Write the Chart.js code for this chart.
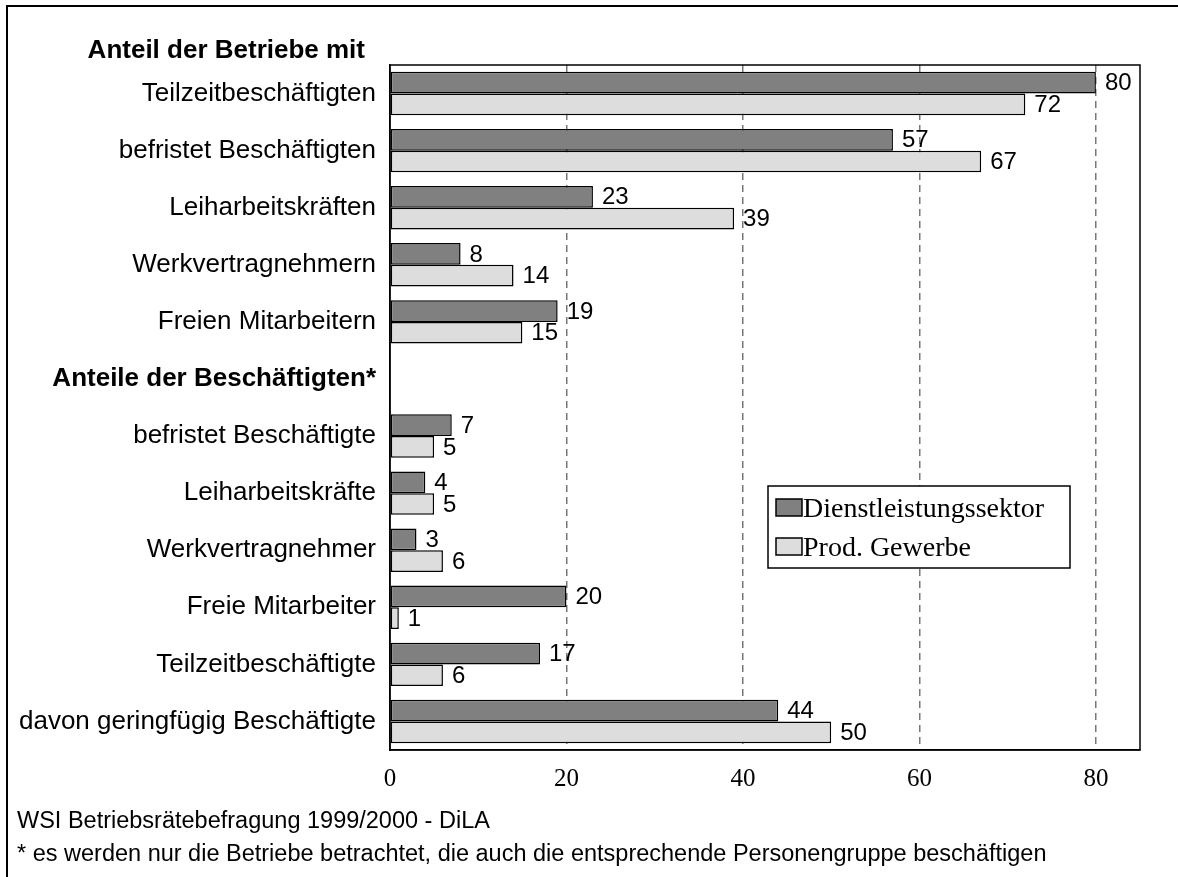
<!DOCTYPE html>
<html>
<head>
<meta charset="utf-8">
<script src="https://cdn.jsdelivr.net/npm/chart.js@4/dist/chart.umd.min.js"></script>
<style>
  html, body { margin: 0; padding: 0; background: #fff; }
  #wrap { position: relative; width: 1178px; height: 877px; }
  #frame { position: absolute; left: 6px; top: 5px; right: 0; bottom: 0;
           border-left: 2px solid #000; border-top: 2px solid #000; }
  canvas { position: absolute; left: 0; top: 0; }
</style>
</head>
<body>
<div id="wrap">
  <div id="frame"></div>
  <canvas id="chart" width="1178" height="877"></canvas>
</div>
<script>
const categories = [
  "Teilzeitbeschäftigten", "befristet Beschäftigten", "Leiharbeitskräften",
  "Werkvertragnehmern", "Freien Mitarbeitern",
  "Anteile der Beschäftigten*",
  "befristet Beschäftigte", "Leiharbeitskräfte", "Werkvertragnehmer",
  "Freie Mitarbeiter", "Teilzeitbeschäftigte", "davon geringfügig Beschäftigte"
]
const dienstleistung = [80, 57, 23, 8, 19, null, 7, 4, 3, 20, 17, 44]
const prodGewerbe = [72, 67, 39, 14, 15, null, 5, 5, 6, 1, 6, 50]
const seriesNames = ["Dienstleistungssektor", "Prod. Gewerbe"]
const seriesColors = ["#808080", "#dddddd"]
const xTicks = [0, 20, 40, 60, 80]
const topHeading = "Anteil der Betriebe mit"
const footer1 = "WSI Betriebsrätebefragung 1999/2000 - DiLA"
const footer2 = "* es werden nur die Betriebe betrachtet, die auch die entsprechende Personengruppe beschäftigen"

const SANS = "'Liberation Sans', Arial, sans-serif"
const SERIF = "'Liberation Serif', 'Times New Roman', serif"

// box round plot area, values next to bars, headings, legend, footer
const extras = {
  id: "extras",
  afterDatasetsDraw(chart) {
    const ctx = chart.ctx
    const a = chart.chartArea
    ctx.save()
    ctx.strokeStyle = "#000"
    ctx.lineWidth = 1.5
    ctx.strokeRect(a.left, a.top, a.right - a.left, a.bottom - a.top)

    ctx.fillStyle = "#000"
    ctx.font = "24px " + SANS
    ctx.textAlign = "left"
    ctx.textBaseline = "middle"
    chart.data.datasets.forEach((ds, i) => {
      chart.getDatasetMeta(i).data.forEach((bar, j) => {
        if (ds.data[j] == null) return
        ctx.fillText(String(ds.data[j]), bar.x + 9, bar.y + 1)
      })
    })

    ctx.font = "bold 26px " + SANS
    ctx.textAlign = "right"
    ctx.fillText(topHeading, 365, 51)

    // legend
    const lx = 768, ly = 486
    ctx.fillStyle = "#fff"
    ctx.fillRect(lx, ly, 302, 82)
    ctx.strokeRect(lx, ly, 302, 82)
    ctx.font = "28px " + SERIF
    ctx.textAlign = "left"
    ctx.textBaseline = "alphabetic"
    seriesNames.forEach((name, i) => {
      const y = ly + 13 + i * 39
      ctx.fillStyle = seriesColors[i]
      ctx.fillRect(776, y, 26, 17)
      ctx.lineWidth = 1.5
      ctx.strokeRect(776, y, 26, 17)
      ctx.fillStyle = "#000"
      ctx.fillText(name, 803, y + 18)
    })

    ctx.font = "23.5px " + SANS
    ctx.textBaseline = "middle"
    ctx.fillText(footer1, 17, 822)
    ctx.fillText(footer2, 17, 855)
    ctx.restore()
  }
}

new Chart(document.getElementById("chart"), {
  type: "bar",
  data: {
    labels: categories,
    datasets: [
      { label: seriesNames[0], data: dienstleistung, backgroundColor: seriesColors[0] },
      { label: seriesNames[1], data: prodGewerbe, backgroundColor: seriesColors[1] }
    ].map(d => ({ ...d, borderColor: "#000", borderWidth: 1.5, borderSkipped: false,
                  categoryPercentage: 0.76, barPercentage: 1.0 }))
  },
  plugins: [extras],
  options: {
    indexAxis: "y",
    responsive: false,
    animation: false,
    layout: { padding: { top: 65, right: 38, left: 0, bottom: 0 } },
    plugins: { legend: { display: false }, tooltip: { enabled: false } },
    scales: {
      x: {
        min: 0,
        max: 85,
        afterFit: s => { s.height = 127 },
        afterBuildTicks: s => { s.ticks = xTicks.map(v => ({ value: v })) },
        grid: {
          drawTicks: false,
          color: c => c.tick && c.tick.value === 0 ? "rgba(0,0,0,0)" : "#777",
          lineWidth: 1.5
        },
        border: { display: true, color: "#000", width: 1.5, dash: [7, 5] },
        ticks: { color: "#000", padding: 14, font: { family: SERIF, size: 25 } }
      },
      y: {
        afterFit: s => { s.width = 390 },
        grid: { display: false, drawTicks: false },
        border: { display: true, color: "#000", width: 1.5 },
        ticks: {
          color: "#000",
          padding: 14,
          autoSkip: false,
          font: c => c.index === 5
            ? { family: SANS, size: 26, weight: "bold" }
            : { family: SANS, size: 26 }
        }
      }
    }
  }
})
</script>
</body>
</html>
